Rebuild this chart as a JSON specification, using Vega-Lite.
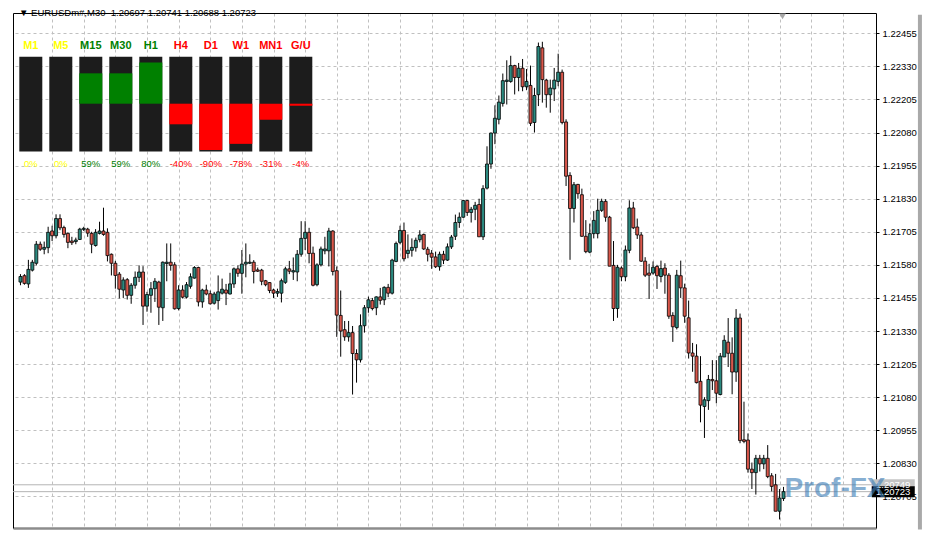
{
"$schema":"https://vega.github.io/schema/vega-lite/v6.json",
"width":863,"height":515,"autosize":"none",
"padding":{"left":13,"top":13,"right":59,"bottom":11},
"background":"white",
"config":{"view":{"stroke":null},"axis":{"labelFont":"Liberation Sans"}},
"title":{"text":"▼ EURUSDm#,M30\u00a0 1.20697 1.20741 1.20688 1.20723","anchor":"start","frame":"group","orient":"top","offset":-9.7,"baseline":"middle","dx":6,"fontSize":9.5,"fontWeight":"normal","font":"Liberation Sans","color":"black"},
"datasets":{"candles":[
{"i":1,"o":1.21515,"h":1.21545,"l":1.21503,"c":1.21536},
{"i":2,"o":1.21539,"h":1.21545,"l":1.21505,"c":1.21510},
{"i":3,"o":1.21508,"h":1.21599,"l":1.21493,"c":1.21563},
{"i":4,"o":1.21560,"h":1.21599,"l":1.21555,"c":1.21590},
{"i":5,"o":1.21586,"h":1.21670,"l":1.21578,"c":1.21658},
{"i":6,"o":1.21658,"h":1.21668,"l":1.21633,"c":1.21639},
{"i":7,"o":1.21639,"h":1.21668,"l":1.21620,"c":1.21646},
{"i":8,"o":1.21645,"h":1.21724,"l":1.21624,"c":1.21703},
{"i":9,"o":1.21708,"h":1.21728,"l":1.21670,"c":1.21690},
{"i":10,"o":1.21690,"h":1.21771,"l":1.21680,"c":1.21755},
{"i":11,"o":1.21755,"h":1.21771,"l":1.21711,"c":1.21720},
{"i":12,"o":1.21721,"h":1.21728,"l":1.21683,"c":1.21695},
{"i":13,"o":1.21699,"h":1.21703,"l":1.21643,"c":1.21665},
{"i":14,"o":1.21670,"h":1.21686,"l":1.21655,"c":1.21664},
{"i":15,"o":1.21668,"h":1.21683,"l":1.21658,"c":1.21674},
{"i":16,"o":1.21676,"h":1.21720,"l":1.21674,"c":1.21715},
{"i":17,"o":1.21714,"h":1.21724,"l":1.21708,"c":1.21718},
{"i":18,"o":1.21715,"h":1.21720,"l":1.21686,"c":1.21700},
{"i":19,"o":1.21699,"h":1.21705,"l":1.21624,"c":1.21658},
{"i":20,"o":1.21653,"h":1.21715,"l":1.21649,"c":1.21703},
{"i":21,"o":1.21699,"h":1.21743,"l":1.21695,"c":1.21708},
{"i":22,"o":1.21708,"h":1.21796,"l":1.21690,"c":1.21695},
{"i":23,"o":1.21703,"h":1.21718,"l":1.21593,"c":1.21615},
{"i":24,"o":1.21620,"h":1.21623,"l":1.21540,"c":1.21586},
{"i":25,"o":1.21586,"h":1.21595,"l":1.21490,"c":1.21540},
{"i":26,"o":1.21545,"h":1.21553,"l":1.21453,"c":1.21488},
{"i":27,"o":1.21485,"h":1.21533,"l":1.21455,"c":1.21523},
{"i":28,"o":1.21524,"h":1.21530,"l":1.21449,"c":1.21465},
{"i":29,"o":1.21465,"h":1.21511,"l":1.21433,"c":1.21503},
{"i":30,"o":1.21503,"h":1.21555,"l":1.21490,"c":1.21533},
{"i":31,"o":1.21533,"h":1.21578,"l":1.21515,"c":1.21553},
{"i":32,"o":1.21553,"h":1.21575,"l":1.21353,"c":1.21424},
{"i":33,"o":1.21424,"h":1.21478,"l":1.21403,"c":1.21468},
{"i":34,"o":1.21465,"h":1.21515,"l":1.21399,"c":1.21490},
{"i":35,"o":1.21490,"h":1.21530,"l":1.21440,"c":1.21518},
{"i":36,"o":1.21515,"h":1.21520,"l":1.21353,"c":1.21420},
{"i":37,"o":1.21418,"h":1.21593,"l":1.21368,"c":1.21590},
{"i":38,"o":1.21585,"h":1.21661,"l":1.21518,"c":1.21590},
{"i":39,"o":1.21590,"h":1.21661,"l":1.21558,"c":1.21578},
{"i":40,"o":1.21580,"h":1.21590,"l":1.21411,"c":1.21414},
{"i":41,"o":1.21415,"h":1.21503,"l":1.21408,"c":1.21485},
{"i":42,"o":1.21485,"h":1.21503,"l":1.21453,"c":1.21458},
{"i":43,"o":1.21458,"h":1.21515,"l":1.21453,"c":1.21505},
{"i":44,"o":1.21499,"h":1.21548,"l":1.21490,"c":1.21535},
{"i":45,"o":1.21530,"h":1.21575,"l":1.21528,"c":1.21570},
{"i":46,"o":1.21570,"h":1.21573,"l":1.21423,"c":1.21440},
{"i":47,"o":1.21440,"h":1.21490,"l":1.21418,"c":1.21485},
{"i":48,"o":1.21485,"h":1.21505,"l":1.21465,"c":1.21470},
{"i":49,"o":1.21471,"h":1.21483,"l":1.21430,"c":1.21433},
{"i":50,"o":1.21435,"h":1.21478,"l":1.21430,"c":1.21470},
{"i":51,"o":1.21445,"h":1.21540,"l":1.21411,"c":1.21478},
{"i":52,"o":1.21473,"h":1.21528,"l":1.21468,"c":1.21488},
{"i":53,"o":1.21485,"h":1.21508,"l":1.21428,"c":1.21473},
{"i":54,"o":1.21470,"h":1.21550,"l":1.21468,"c":1.21508},
{"i":55,"o":1.21508,"h":1.21570,"l":1.21493,"c":1.21565},
{"i":56,"o":1.21565,"h":1.21578,"l":1.21535,"c":1.21548},
{"i":57,"o":1.21548,"h":1.21636,"l":1.21471,"c":1.21583},
{"i":58,"o":1.21583,"h":1.21661,"l":1.21533,"c":1.21590},
{"i":59,"o":1.21586,"h":1.21620,"l":1.21583,"c":1.21590},
{"i":60,"o":1.21590,"h":1.21598,"l":1.21510,"c":1.21555},
{"i":61,"o":1.21561,"h":1.21570,"l":1.21553,"c":1.21556},
{"i":62,"o":1.21560,"h":1.21565,"l":1.21503,"c":1.21518},
{"i":63,"o":1.21520,"h":1.21523,"l":1.21499,"c":1.21505},
{"i":64,"o":1.21513,"h":1.21515,"l":1.21473,"c":1.21483},
{"i":65,"o":1.21485,"h":1.21490,"l":1.21455,"c":1.21473},
{"i":66,"o":1.21473,"h":1.21490,"l":1.21459,"c":1.21479},
{"i":67,"o":1.21473,"h":1.21528,"l":1.21438,"c":1.21520},
{"i":68,"o":1.21514,"h":1.21573,"l":1.21508,"c":1.21565},
{"i":69,"o":1.21565,"h":1.21595,"l":1.21545,"c":1.21556},
{"i":70,"o":1.21553,"h":1.21608,"l":1.21523,"c":1.21558},
{"i":71,"o":1.21553,"h":1.21636,"l":1.21518,"c":1.21620},
{"i":72,"o":1.21620,"h":1.21745,"l":1.21611,"c":1.21680},
{"i":73,"o":1.21680,"h":1.21745,"l":1.21636,"c":1.21703},
{"i":74,"o":1.21703,"h":1.21720,"l":1.21586,"c":1.21623},
{"i":75,"o":1.21624,"h":1.21649,"l":1.21499,"c":1.21503},
{"i":76,"o":1.21505,"h":1.21586,"l":1.21499,"c":1.21580},
{"i":77,"o":1.21580,"h":1.21649,"l":1.21574,"c":1.21640},
{"i":78,"o":1.21633,"h":1.21686,"l":1.21620,"c":1.21640},
{"i":79,"o":1.21633,"h":1.21720,"l":1.21574,"c":1.21708},
{"i":80,"o":1.21708,"h":1.21711,"l":1.21540,"c":1.21555},
{"i":81,"o":1.21558,"h":1.21574,"l":1.21308,"c":1.21390},
{"i":82,"o":1.21389,"h":1.21483,"l":1.21233,"c":1.21330},
{"i":83,"o":1.21335,"h":1.21368,"l":1.21293,"c":1.21308},
{"i":84,"o":1.21308,"h":1.21368,"l":1.21290,"c":1.21324},
{"i":85,"o":1.21324,"h":1.21349,"l":1.21090,"c":1.21245},
{"i":86,"o":1.21245,"h":1.21261,"l":1.21135,"c":1.21221},
{"i":87,"o":1.21221,"h":1.21393,"l":1.21211,"c":1.21350},
{"i":88,"o":1.21350,"h":1.21428,"l":1.21324,"c":1.21418},
{"i":89,"o":1.21418,"h":1.21460,"l":1.21399,"c":1.21448},
{"i":90,"o":1.21445,"h":1.21455,"l":1.21408,"c":1.21415},
{"i":91,"o":1.21418,"h":1.21461,"l":1.21390,"c":1.21459},
{"i":92,"o":1.21459,"h":1.21493,"l":1.21430,"c":1.21446},
{"i":93,"o":1.21448,"h":1.21499,"l":1.21428,"c":1.21495},
{"i":94,"o":1.21495,"h":1.21508,"l":1.21458,"c":1.21473},
{"i":95,"o":1.21473,"h":1.21603,"l":1.21468,"c":1.21598},
{"i":96,"o":1.21593,"h":1.21668,"l":1.21590,"c":1.21661},
{"i":97,"o":1.21665,"h":1.21728,"l":1.21658,"c":1.21710},
{"i":98,"o":1.21710,"h":1.21740,"l":1.21593,"c":1.21603},
{"i":99,"o":1.21623,"h":1.21695,"l":1.21605,"c":1.21635},
{"i":100,"o":1.21635,"h":1.21680,"l":1.21611,"c":1.21646},
{"i":101,"o":1.21645,"h":1.21683,"l":1.21630,"c":1.21673},
{"i":102,"o":1.21675,"h":1.21711,"l":1.21665,"c":1.21693},
{"i":103,"o":1.21695,"h":1.21698,"l":1.21636,"c":1.21640},
{"i":104,"o":1.21639,"h":1.21648,"l":1.21593,"c":1.21620},
{"i":105,"o":1.21624,"h":1.21636,"l":1.21565,"c":1.21609},
{"i":106,"o":1.21610,"h":1.21630,"l":1.21568,"c":1.21573},
{"i":107,"o":1.21573,"h":1.21630,"l":1.21558,"c":1.21620},
{"i":108,"o":1.21620,"h":1.21633,"l":1.21583,"c":1.21598},
{"i":109,"o":1.21598,"h":1.21661,"l":1.21595,"c":1.21648},
{"i":110,"o":1.21648,"h":1.21693,"l":1.21640,"c":1.21685},
{"i":111,"o":1.21688,"h":1.21770,"l":1.21674,"c":1.21740},
{"i":112,"o":1.21740,"h":1.21778,"l":1.21720,"c":1.21760},
{"i":113,"o":1.21760,"h":1.21825,"l":1.21758,"c":1.21823},
{"i":114,"o":1.21823,"h":1.21825,"l":1.21765,"c":1.21778},
{"i":115,"o":1.21778,"h":1.21799,"l":1.21740,"c":1.21790},
{"i":116,"o":1.21790,"h":1.21818,"l":1.21749,"c":1.21805},
{"i":117,"o":1.21808,"h":1.21830,"l":1.21686,"c":1.21686},
{"i":118,"o":1.21686,"h":1.21881,"l":1.21674,"c":1.21868},
{"i":119,"o":1.21870,"h":1.22028,"l":1.21865,"c":1.21961},
{"i":120,"o":1.21961,"h":1.22080,"l":1.21943,"c":1.22078},
{"i":121,"o":1.22078,"h":1.22183,"l":1.22036,"c":1.22134},
{"i":122,"o":1.22130,"h":1.22220,"l":1.22111,"c":1.22195},
{"i":123,"o":1.22190,"h":1.22303,"l":1.22178,"c":1.22276},
{"i":124,"o":1.22273,"h":1.22353,"l":1.22186,"c":1.22278},
{"i":125,"o":1.22273,"h":1.22370,"l":1.22268,"c":1.22333},
{"i":126,"o":1.22333,"h":1.22336,"l":1.22224,"c":1.22288},
{"i":127,"o":1.22288,"h":1.22343,"l":1.22236,"c":1.22323},
{"i":128,"o":1.22323,"h":1.22358,"l":1.22236,"c":1.22253},
{"i":129,"o":1.22253,"h":1.22320,"l":1.22240,"c":1.22273},
{"i":130,"o":1.22258,"h":1.22333,"l":1.22105,"c":1.22115},
{"i":131,"o":1.22118,"h":1.22249,"l":1.22080,"c":1.22220},
{"i":132,"o":1.22223,"h":1.22420,"l":1.22180,"c":1.22405},
{"i":133,"o":1.22400,"h":1.22423,"l":1.22193,"c":1.22280},
{"i":134,"o":1.22278,"h":1.22283,"l":1.22174,"c":1.22223},
{"i":135,"o":1.22223,"h":1.22280,"l":1.22155,"c":1.22248},
{"i":136,"o":1.22245,"h":1.22324,"l":1.22199,"c":1.22278},
{"i":137,"o":1.22273,"h":1.22378,"l":1.22255,"c":1.22308},
{"i":138,"o":1.22308,"h":1.22318,"l":1.22111,"c":1.22118},
{"i":139,"o":1.22120,"h":1.22130,"l":1.21878,"c":1.21915},
{"i":140,"o":1.21918,"h":1.21930,"l":1.21599,"c":1.21793},
{"i":141,"o":1.21793,"h":1.21893,"l":1.21740,"c":1.21883},
{"i":142,"o":1.21884,"h":1.21886,"l":1.21830,"c":1.21849},
{"i":143,"o":1.21845,"h":1.21868,"l":1.21686,"c":1.21688},
{"i":144,"o":1.21688,"h":1.21749,"l":1.21624,"c":1.21630},
{"i":145,"o":1.21628,"h":1.21736,"l":1.21624,"c":1.21698},
{"i":146,"o":1.21698,"h":1.21783,"l":1.21680,"c":1.21748},
{"i":147,"o":1.21698,"h":1.21830,"l":1.21680,"c":1.21786},
{"i":148,"o":1.21786,"h":1.21830,"l":1.21780,"c":1.21820},
{"i":149,"o":1.21820,"h":1.21828,"l":1.21743,"c":1.21760},
{"i":150,"o":1.21760,"h":1.21765,"l":1.21575,"c":1.21575},
{"i":151,"o":1.21578,"h":1.21670,"l":1.21368,"c":1.21415},
{"i":152,"o":1.21415,"h":1.21580,"l":1.21380,"c":1.21571},
{"i":153,"o":1.21568,"h":1.21574,"l":1.21518,"c":1.21535},
{"i":154,"o":1.21535,"h":1.21653,"l":1.21518,"c":1.21636},
{"i":155,"o":1.21635,"h":1.21824,"l":1.21624,"c":1.21795},
{"i":156,"o":1.21795,"h":1.21818,"l":1.21715,"c":1.21720},
{"i":157,"o":1.21723,"h":1.21755,"l":1.21678,"c":1.21693},
{"i":158,"o":1.21693,"h":1.21703,"l":1.21591,"c":1.21594},
{"i":159,"o":1.21594,"h":1.21609,"l":1.21534,"c":1.21541},
{"i":160,"o":1.21549,"h":1.21584,"l":1.21451,"c":1.21541},
{"i":161,"o":1.21549,"h":1.21593,"l":1.21543,"c":1.21571},
{"i":162,"o":1.21574,"h":1.21580,"l":1.21489,"c":1.21539},
{"i":163,"o":1.21536,"h":1.21596,"l":1.21514,"c":1.21566},
{"i":164,"o":1.21568,"h":1.21586,"l":1.21471,"c":1.21541},
{"i":165,"o":1.21541,"h":1.21549,"l":1.21376,"c":1.21386},
{"i":166,"o":1.21389,"h":1.21401,"l":1.21289,"c":1.21346},
{"i":167,"o":1.21343,"h":1.21561,"l":1.21336,"c":1.21541},
{"i":168,"o":1.21539,"h":1.21596,"l":1.21455,"c":1.21493},
{"i":169,"o":1.21493,"h":1.21509,"l":1.21361,"c":1.21386},
{"i":170,"o":1.21380,"h":1.21445,"l":1.21226,"c":1.21247},
{"i":171,"o":1.21247,"h":1.21285,"l":1.21176,"c":1.21235},
{"i":172,"o":1.21235,"h":1.21280,"l":1.21132,"c":1.21135},
{"i":173,"o":1.21140,"h":1.21235,"l":1.20985,"c":1.21050},
{"i":174,"o":1.21045,"h":1.21080,"l":1.20926,"c":1.21070},
{"i":175,"o":1.21067,"h":1.21164,"l":1.21032,"c":1.21147},
{"i":176,"o":1.21147,"h":1.21220,"l":1.21107,"c":1.21142},
{"i":177,"o":1.21142,"h":1.21220,"l":1.21057,"c":1.21095},
{"i":178,"o":1.21090,"h":1.21247,"l":1.21087,"c":1.21235},
{"i":179,"o":1.21232,"h":1.21314,"l":1.21232,"c":1.21295},
{"i":180,"o":1.21288,"h":1.21379,"l":1.21194,"c":1.21246},
{"i":181,"o":1.21246,"h":1.21306,"l":1.21091,"c":1.21175},
{"i":182,"o":1.21175,"h":1.21413,"l":1.21138,"c":1.21379},
{"i":183,"o":1.21379,"h":1.21396,"l":1.20906,"c":1.20916},
{"i":184,"o":1.20919,"h":1.21063,"l":1.20906,"c":1.20913},
{"i":185,"o":1.20918,"h":1.20943,"l":1.20795,"c":1.20808},
{"i":186,"o":1.20808,"h":1.20833,"l":1.20733,"c":1.20795},
{"i":187,"o":1.20795,"h":1.20862,"l":1.20712,"c":1.20849},
{"i":188,"o":1.20849,"h":1.20862,"l":1.20799,"c":1.20828},
{"i":189,"o":1.20828,"h":1.20862,"l":1.20808,"c":1.20849},
{"i":190,"o":1.20849,"h":1.20899,"l":1.20774,"c":1.20780},
{"i":191,"o":1.20783,"h":1.20793,"l":1.20724,"c":1.20743},
{"i":192,"o":1.20749,"h":1.20790,"l":1.20649,"c":1.20649},
{"i":193,"o":1.20649,"h":1.20733,"l":1.20618,"c":1.20699},
{"i":194,"o":1.20697,"h":1.20741,"l":1.20688,"c":1.20723}
],
"quotes":[{"p":1.20749,"lab":"1.20749","k":"ask"},{"p":1.20723,"lab":"1.20723","k":"bid"}],
"panel":[
{"tf":"M1","pct":0,"lab":"0%"},{"tf":"M5","pct":0,"lab":"0%"},{"tf":"M15","pct":59,"lab":"59%"},{"tf":"M30","pct":59,"lab":"59%"},{"tf":"H1","pct":80,"lab":"80%"},
{"tf":"H4","pct":-40,"lab":"-40%"},{"tf":"D1","pct":-90,"lab":"-90%"},{"tf":"W1","pct":-78,"lab":"-78%"},{"tf":"MN1","pct":-31,"lab":"-31%"},{"tf":"G/U","pct":-4,"lab":"-4%"}
]},
"layer":[
{
"layer":[
{"data":{"name":"quotes"},"mark":{"type":"rule","color":"#b4b4b4","strokeWidth":1},
 "encoding":{"y":{"field":"p","type":"quantitative","scale":{"domain":[1.205857,1.225317],"nice":false,"zero":false},"axis":null}}},
{"data":{"name":"candles"},"mark":{"type":"rule","color":"black","strokeWidth":1},
 "encoding":{
  "x":{"field":"i","type":"quantitative","scale":{"domain":[0.375,216.125],"nice":false,"zero":false},
       "axis":{"orient":"bottom","values":[9,17,25,33,41,49,57,65,73,81,89,97,105,113,121,129,137,145,153,161,169,177,185,193,201,209],"grid":true,"gridColor":"#c0c0c0","gridDash":[3,3],"gridWidth":1,"labels":false,"ticks":false,"domainColor":"#8c8c8c","domainWidth":2.5,"title":null}},
  "y":{"field":"l","type":"quantitative","scale":{"domain":[1.205857,1.225317],"nice":false,"zero":false},
       "axis":{"orient":"right","values":[1.2058,1.20705,1.2083,1.20955,1.2108,1.21205,1.2133,1.21455,1.2158,1.21705,1.2183,1.21955,1.2208,1.22205,1.2233,1.22455],"format":".5f","grid":true,"gridColor":"#c0c0c0","gridDash":[3,3],"gridWidth":1,"tickSize":3,"tickColor":"black","domainColor":"black","domainWidth":1,"labelFontSize":9.5,"labelColor":"black","labelPadding":3,"labelFlush":false,"labelOverlap":false,"title":null}},
  "y2":{"field":"h"}}},
{"data":{"name":"candles"},"mark":{"type":"bar","width":3,"stroke":"black","strokeWidth":0.8},
 "encoding":{
  "x":{"field":"i","type":"quantitative","scale":{"domain":[0.375,216.125],"nice":false,"zero":false},
       "axis":{"orient":"top","labels":false,"ticks":false,"grid":false,"domainColor":"black","domainWidth":1,"title":null}},
  "y":{"field":"o","type":"quantitative","scale":{"domain":[1.205857,1.225317],"nice":false,"zero":false},
       "axis":{"orient":"left","labels":false,"ticks":false,"grid":false,"domainColor":"black","domainWidth":1,"title":null}},
  "y2":{"field":"c"},
  "fill":{"condition":{"test":"datum.c >= datum.o","value":"#2b8a80"},"value":"#d9574b"}}},
{"data":{"values":[{"t":"shift"}]},"mark":{"type":"point","shape":"triangle-down","filled":true,"color":"#a8a8a8","size":45,"opacity":1},
 "encoding":{"x":{"datum":193.75,"type":"quantitative","scale":{"domain":[0.375,216.125],"nice":false,"zero":false},"axis":null},
  "y":{"datum":1.22519,"type":"quantitative","scale":{"domain":[1.205857,1.225317],"nice":false,"zero":false},"axis":null}}},
{"data":{"values":[{"t":"shadow"}]},"mark":{"type":"rule","color":"#a9a9a9","strokeWidth":4},
 "encoding":{"x":{"datum":228.5,"type":"quantitative","scale":{"domain":[0.375,216.125],"nice":false,"zero":false},"axis":null},
  "y":{"datum":1.22525,"type":"quantitative","scale":{"domain":[1.205857,1.225317],"nice":false,"zero":false},"axis":null},
  "y2":{"datum":1.20580}}},
{"data":{"name":"quotes"},"mark":{"type":"point","shape":"M-1,-0.256H1V0.256H-1Z","size":1849,"filled":true,"opacity":1,"strokeWidth":0},
 "encoding":{"x":{"datum":221.75,"type":"quantitative","scale":{"domain":[0.375,216.125],"nice":false,"zero":false},"axis":null},
  "y":{"field":"p","type":"quantitative","scale":{"domain":[1.205857,1.225317],"nice":false,"zero":false},"axis":null},
  "color":{"condition":{"test":"datum.k == 'bid'","value":"#000000"},"value":"#c4c4c4"}}},
{"data":{"name":"quotes"},"mark":{"type":"text","font":"Liberation Sans","fontSize":9.5,"color":"white","align":"center","baseline":"middle"},
 "encoding":{"x":{"datum":221.75,"type":"quantitative","scale":{"domain":[0.375,216.125],"nice":false,"zero":false},"axis":null},
  "y":{"field":"p","type":"quantitative","scale":{"domain":[1.205857,1.225317],"nice":false,"zero":false},"axis":null},
  "text":{"field":"lab"}}},
{"data":{"values":[{"t":"Prof-FX"}]},"mark":{"type":"text","font":"Liberation Sans","fontWeight":"bold","fontSize":28,"color":"#3f7fb8","opacity":0.62,"align":"center","baseline":"alphabetic"},
 "encoding":{"x":{"datum":207.0,"type":"quantitative","scale":{"domain":[0.375,216.125],"nice":false,"zero":false},"axis":null},
  "y":{"datum":1.20703,"type":"quantitative","scale":{"domain":[1.205857,1.225317],"nice":false,"zero":false},"axis":null},
  "text":{"field":"t"}}}
],
"resolve":{"axis":{"x":"independent","y":"independent"}}
},
{
"data":{"name":"panel"},
"layer":[
{"mark":{"type":"bar","color":"#1c1c1c"},
 "encoding":{"x":{"field":"tf","type":"nominal","sort":null,"scale":{"type":"band","domain":["M1","M5","M15","M30","H1","H4","D1","W1","MN1","G/U"],"range":[6.3,299.3],"paddingInner":0.2333,"paddingOuter":0},"axis":null},
  "y":{"datum":91,"type":"quantitative","scale":{"domain":[-100,100],"range":[142.2,39.2],"nice":false,"zero":false},"axis":null},
  "y2":{"datum":-93}}},
{"mark":{"type":"bar"},
 "encoding":{"x":{"field":"tf","type":"nominal","sort":null,"scale":{"type":"band","domain":["M1","M5","M15","M30","H1","H4","D1","W1","MN1","G/U"],"range":[6.3,299.3],"paddingInner":0.2333,"paddingOuter":0},"axis":null},
  "y":{"field":"pct","type":"quantitative","scale":{"domain":[-100,100],"range":[142.2,39.2],"nice":false,"zero":false},"axis":null},
  "y2":{"datum":0},
  "color":{"condition":{"test":"datum.pct > 0","value":"#008000"},"value":"#ff0000"}}},
{"mark":{"type":"text","font":"Liberation Sans","fontWeight":"bold","fontSize":11,"baseline":"middle","align":"center"},
 "encoding":{"x":{"field":"tf","type":"nominal","sort":null,"scale":{"type":"band","domain":["M1","M5","M15","M30","H1","H4","D1","W1","MN1","G/U"],"range":[6.3,299.3],"paddingInner":0.2333,"paddingOuter":0},"axis":null},
  "y":{"datum":112.6,"type":"quantitative","scale":{"domain":[-100,100],"range":[142.2,39.2],"nice":false,"zero":false},"axis":null},
  "text":{"field":"tf"},
  "color":{"condition":[{"test":"datum.pct > 0","value":"#008000"},{"test":"datum.pct < 0","value":"#ff0000"}],"value":"#ffff00"}}},
{"mark":{"type":"text","font":"Liberation Sans","fontSize":9.5,"baseline":"middle","align":"center"},
 "encoding":{"x":{"field":"tf","type":"nominal","sort":null,"scale":{"type":"band","domain":["M1","M5","M15","M30","H1","H4","D1","W1","MN1","G/U"],"range":[6.3,299.3],"paddingInner":0.2333,"paddingOuter":0},"axis":null},
  "y":{"datum":-117,"type":"quantitative","scale":{"domain":[-100,100],"range":[142.2,39.2],"nice":false,"zero":false},"axis":null},
  "text":{"field":"lab"},
  "color":{"condition":[{"test":"datum.pct > 0","value":"#008000"},{"test":"datum.pct < 0","value":"#ff0000"}],"value":"#ffff00"}}}
]
}
],
"resolve":{"scale":{"x":"independent","y":"independent"}}
}
